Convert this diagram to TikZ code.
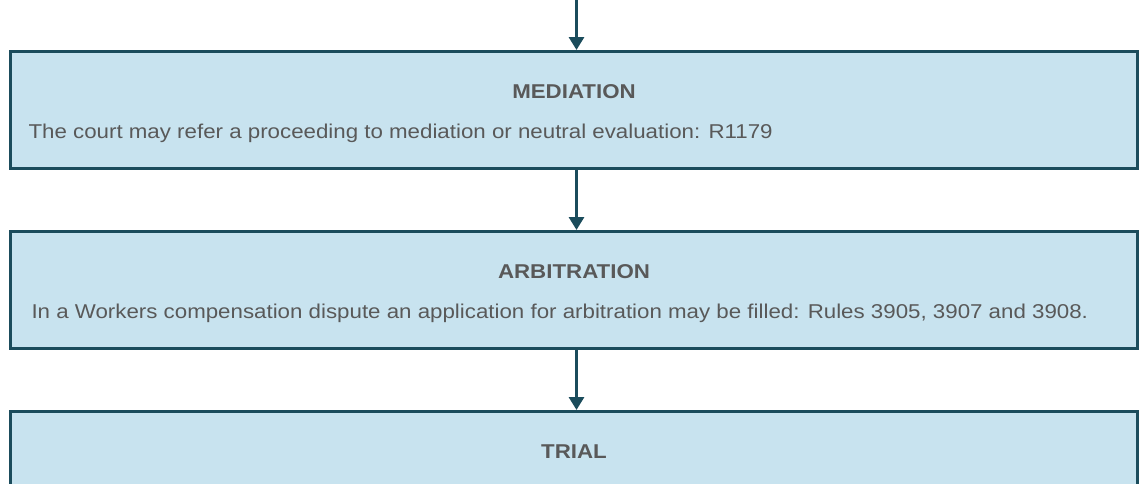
\documentclass[tikz,border=0pt]{standalone}
\usepackage{fontspec}
\setmainfont{Liberation Sans}
\newfontfamily\stagefont[FakeStretch=1.115]{Liberation Sans}
\usepackage{tikz}
\usetikzlibrary{arrows.meta,calc,positioning}
\definecolor{boxline}{HTML}{1B4C5C}
\definecolor{boxfill}{HTML}{C8E3EF}
\definecolor{boxtext}{HTML}{595959}
\tikzset{
  stage/.style={draw=boxline,fill=boxfill,line width=3pt,minimum width=1127pt,minimum height=117pt,inner sep=0pt},
  titel/.style={anchor=base,text=boxtext,font=\stagefont\fontsize{20}{24}\selectfont\bfseries},
  inhalt/.style={anchor=base west,text=boxtext,font=\stagefont\fontsize{20}{24}\selectfont},
  pfeil/.style={draw=boxline,line width=3pt,-{Triangle[width=15pt,length=13pt]}}
}
\begin{document}
\begin{tikzpicture}[x=1pt,y=1pt]
\useasboundingbox (0,0) rectangle (1140,-483);
\clip (0,0) rectangle (1140,-483);
%Kaesten
\node[stage] (mediation) at (574,-110) {};
\node[stage] (arbitration) at (574,-290) {};
\node[stage] (trial) at (574,-470) {};
%Texte
\node[titel] (mediationT) at ($(mediation.north)+(0,-48)$) {MEDIATION};
\node[inhalt] (mediationI) at ($(mediation.north west)+(16,-88)$) {The court may refer a proceeding to mediation or neutral evaluation: R1179};
\node[titel] (arbitrationT) at ($(arbitration.north)+(0,-48)$) {ARBITRATION};
\node[inhalt] (arbitrationI) at ($(arbitration.north west)+(19,-88)$) {In a Workers compensation dispute an application for arbitration may be filled: Rules 3905, 3907 and 3908.};
\node[titel] (trialT) at ($(trial.north)+(0,-48)$) {TRIAL};
%Pfeile
\coordinate (anfang) at (576.5,2);
\draw[pfeil] (anfang) -- (anfang |- mediation.north);
\draw[pfeil] ([xshift=2.5pt]mediation.south) -- ([xshift=2.5pt]arbitration.north);
\draw[pfeil] ([xshift=2.5pt]arbitration.south) -- ([xshift=2.5pt]trial.north);
\end{tikzpicture}
\end{document}
